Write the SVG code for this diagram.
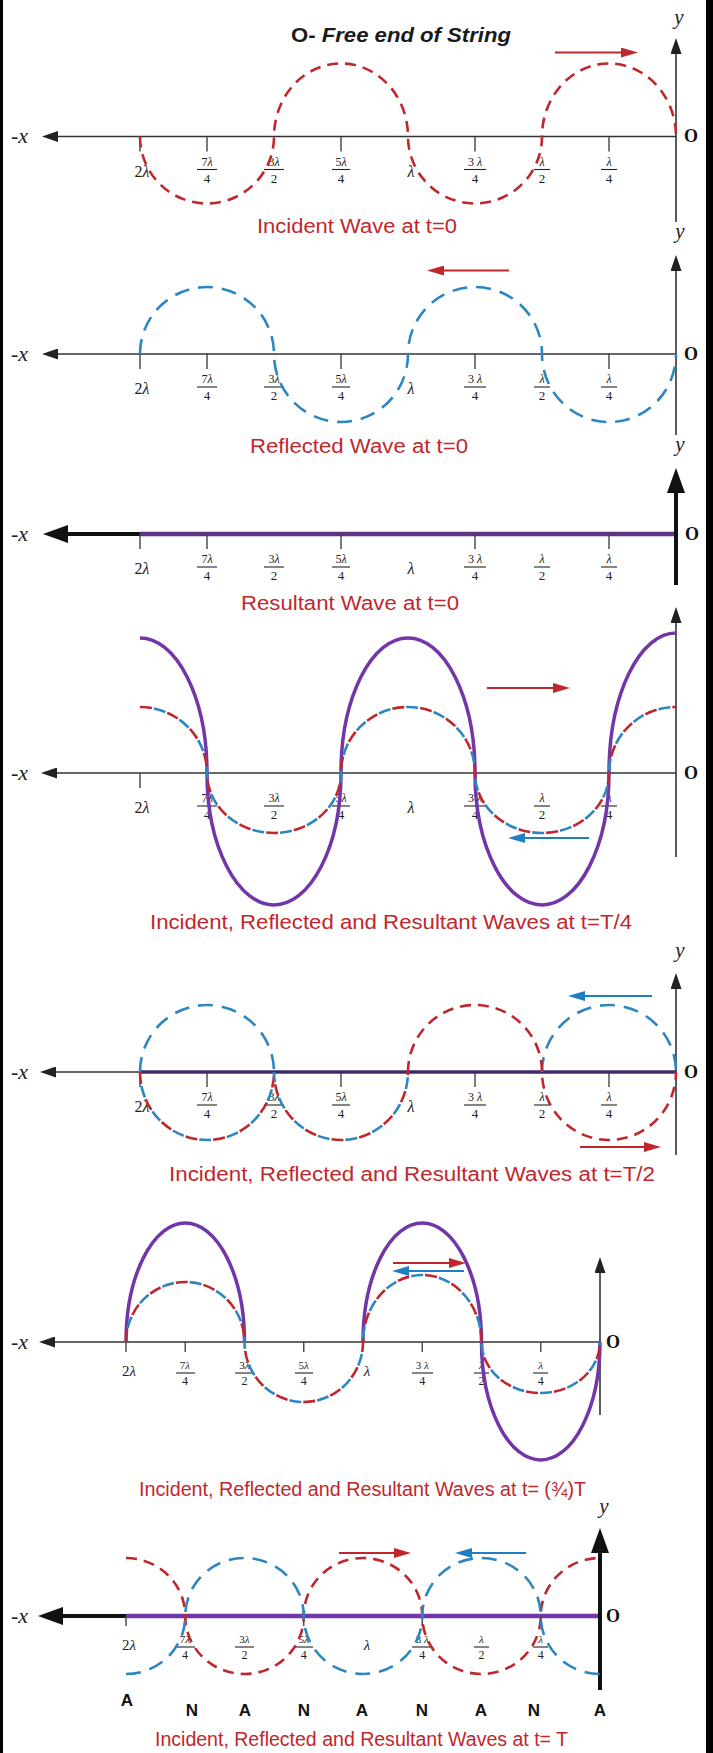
<svg xmlns="http://www.w3.org/2000/svg" width="713" height="1753" viewBox="0 0 713 1753">
<defs>
<style>
.ax{stroke:#333;stroke-width:1.6;fill:none}
.axT{stroke:#111;stroke-width:4;fill:none}
.tk{stroke:#444;stroke-width:1.4;fill:none}
.red{stroke:#c0272d;stroke-width:2.6;fill:none;stroke-dasharray:11 7}
.blu{stroke:#2e86c1;stroke-width:2.6;fill:none;stroke-dasharray:15 9}
.mr{stroke:#c0272d;stroke-width:2.6;fill:none;stroke-dasharray:12 16}
.mb{stroke:#2e86c1;stroke-width:2.6;fill:none;stroke-dasharray:12 16;stroke-dashoffset:14}
.pur{stroke:#7236a8;stroke-width:3.5;fill:none}
.arR{stroke:#c0272d;stroke-width:2;fill:none;marker-end:url(#mR)}
.arB{stroke:#1f7fc4;stroke-width:2;fill:none;marker-end:url(#mB)}
.lb{font-family:"Liberation Serif","Times New Roman",serif;fill:#222;text-anchor:middle}
.s{font-size:16px}.n{font-size:12px}.d{font-size:13px}
.s2{font-size:15px}.n2{font-size:11px}.d2{font-size:12px}
.fl{stroke:#222;stroke-width:1.1;fill:none}
.xl{font-family:"Liberation Serif","Times New Roman",serif;font-style:italic;font-size:22px;fill:#222}
.yl{font-family:"Liberation Serif","Times New Roman",serif;font-style:italic;font-size:21px;fill:#222;text-anchor:middle}
.ol{font-family:"Liberation Serif","Times New Roman",serif;font-weight:bold;font-size:18px;fill:#111}
.cap{font-family:"Liberation Sans",Arial,sans-serif;font-size:20px;fill:#c0272d}
.an{font-family:"Liberation Sans",Arial,sans-serif;font-weight:bold;font-size:17px;fill:#111;text-anchor:middle}
</style>
<marker id="mK" viewBox="0 0 16 11" refX="11" refY="5.5" markerWidth="16" markerHeight="11" markerUnits="userSpaceOnUse" orient="auto"><path d="M0,0L16,5.5L0,11Z" fill="#222"/></marker>
<marker id="mKb" viewBox="0 0 25 18" refX="18" refY="9" markerWidth="25" markerHeight="18" markerUnits="userSpaceOnUse" orient="auto"><path d="M0,0L25,9L0,18Z" fill="#111"/></marker>
<marker id="mR" viewBox="0 0 17 10" refX="12" refY="5" markerWidth="17" markerHeight="10" markerUnits="userSpaceOnUse" orient="auto"><path d="M0,0L17,5L0,10Z" fill="#c0272d"/></marker>
<marker id="mB" viewBox="0 0 17 10" refX="12" refY="5" markerWidth="17" markerHeight="10" markerUnits="userSpaceOnUse" orient="auto"><path d="M0,0L17,5L0,10Z" fill="#1f7fc4"/></marker>
<g id="labA">
 <path class="tk" d="M140,0V15M207,0V15M341,0V15M475,0V15M609,0V15"/>
 <text class="lb s" x="142" y="40">2<tspan font-style="italic">λ</tspan></text>
 <text class="lb n" x="207" y="29">7<tspan font-style="italic">λ</tspan></text><path class="fl" d="M197,33H217"/><text class="lb d" x="207" y="46">4</text>
 <text class="lb n" x="274" y="29">3<tspan font-style="italic">λ</tspan></text><path class="fl" d="M264,33H284"/><text class="lb d" x="274" y="46">2</text>
 <text class="lb n" x="341" y="29">5<tspan font-style="italic">λ</tspan></text><path class="fl" d="M332,33H350"/><text class="lb d" x="341" y="46">4</text>
 <text class="lb s" x="411" y="40" font-style="italic">λ</text>
 <text class="lb n" x="475" y="29">3 <tspan font-style="italic">λ</tspan></text><path class="fl" d="M464,33H486"/><text class="lb d" x="475" y="46">4</text>
 <text class="lb n" x="542" y="29" font-style="italic">λ</text><path class="fl" d="M534,33H550"/><text class="lb d" x="542" y="46">2</text>
 <text class="lb n" x="609" y="29" font-style="italic">λ</text><path class="fl" d="M601,33H617"/><text class="lb d" x="609" y="46">4</text>
</g>
<g id="labB">
 <path class="tk" d="M126,0V10M185.25,0V10M303.75,0V10M422.25,0V10M540.75,0V10"/>
 <text class="lb s2" x="129" y="34">2<tspan font-style="italic">λ</tspan></text>
 <text class="lb n2" x="185" y="27">7<tspan font-style="italic">λ</tspan></text><path class="fl" d="M176,31H195"/><text class="lb d2" x="185" y="43">4</text>
 <text class="lb n2" x="244.5" y="27">3<tspan font-style="italic">λ</tspan></text><path class="fl" d="M235,31H254"/><text class="lb d2" x="244.5" y="43">2</text>
 <text class="lb n2" x="303.75" y="27">5<tspan font-style="italic">λ</tspan></text><path class="fl" d="M295,31H313"/><text class="lb d2" x="303.75" y="43">4</text>
 <text class="lb s2" x="367" y="34" font-style="italic">λ</text>
 <text class="lb n2" x="422.25" y="27">3 <tspan font-style="italic">λ</tspan></text><path class="fl" d="M412,31H433"/><text class="lb d2" x="422.25" y="43">4</text>
 <text class="lb n2" x="481.5" y="27" font-style="italic">λ</text><path class="fl" d="M474,31H489"/><text class="lb d2" x="481.5" y="43">2</text>
 <text class="lb n2" x="540.75" y="27" font-style="italic">λ</text><path class="fl" d="M533,31H548"/><text class="lb d2" x="540.75" y="43">4</text>
</g>
</defs>
<rect x="0" y="0" width="713" height="1753" fill="#fff"/>
<rect x="0" y="0" width="3" height="1753" fill="#000"/>
<rect x="706" y="0" width="7" height="1753" fill="#000"/>

<g id="panel1">
 <text x="291" y="42" font-family="Liberation Sans, Arial, sans-serif" font-weight="bold" font-size="20" fill="#1a1a1a" textLength="220" lengthAdjust="spacingAndGlyphs">O- <tspan font-style="italic">Free end of String</tspan></text>
 <path class="ax" d="M676,136.5H47" marker-end="url(#mK)"/>
 <path class="ax" d="M676,222V43" marker-end="url(#mK)"/>
 <use href="#labA" y="136.5"/>
 <path class="red" d="M140,136.5A67,67 0 0 0 274,136.5A67,73 0 0 1 408,136.5A67,67 0 0 0 542,136.5A67,73 0 0 1 676,136.5"/>
 <text class="xl" x="11" y="143">-x</text>
 <text class="ol" x="684" y="142">O</text>
 <text class="yl" x="679" y="24">y</text>
 <text class="cap" x="257" y="233" textLength="200" lengthAdjust="spacingAndGlyphs">Incident Wave at t=0</text>
</g>

<g id="panel2">
 <text class="yl" x="680" y="238">y</text>
 <path class="ax" d="M676,354H47" marker-end="url(#mK)"/>
 <path class="ax" d="M676,435V260" marker-end="url(#mK)"/>
 <use href="#labA" y="354"/>
 <path class="blu" d="M140,354A67,67 0 0 1 274,354A67,68 0 0 0 408,354A67,67 0 0 1 542,354A67,68 0 0 0 676,354"/>
 <text class="xl" x="11" y="361">-x</text>
 <text class="ol" x="684" y="360">O</text>
 <text class="cap" x="250" y="453" textLength="218" lengthAdjust="spacingAndGlyphs">Reflected Wave at t=0</text>
 <text class="yl" x="680" y="451">y</text>
</g>

<g id="panel3">
 <path class="axT" d="M676,534H50" stroke-width="3.5" marker-end="url(#mKb)"/>
 <path d="M140,534H676" stroke="#5d3580" stroke-width="4.5"/>
 <path class="axT" d="M676,585V475" marker-end="url(#mKb)"/>
 <use href="#labA" y="534"/>
 <text class="xl" x="11" y="541">-x</text>
 <text class="ol" x="685" y="540">O</text>
 <text class="cap" x="241" y="610" textLength="218" lengthAdjust="spacingAndGlyphs">Resultant Wave at t=0</text>
</g>

<g id="panel4">
 <path class="ax" d="M676,773H46" marker-end="url(#mK)"/>
 <path class="ax" d="M676,857V612" marker-end="url(#mK)"/>
 <use href="#labA" y="773"/>
 <path class="pur" d="M140,638A67,135 0 0 1 207,773A67,132 0 0 0 341,773A67,135 0 0 1 475,773A67,132 0 0 0 609,773A67,140 0 0 1 676,633"/>
 <path class="mr" d="M140,707A67,66 0 0 1 207,773A67,60 0 0 0 341,773A67,66 0 0 1 475,773A67,60 0 0 0 609,773A67,66 0 0 1 676,707"/>
 <path class="mb" d="M140,707A67,66 0 0 1 207,773A67,60 0 0 0 341,773A67,66 0 0 1 475,773A67,60 0 0 0 609,773A67,66 0 0 1 676,707"/>
 <text class="xl" x="11" y="780">-x</text>
 <text class="ol" x="684" y="779">O</text>
 <text class="cap" x="150" y="929" textLength="482" lengthAdjust="spacingAndGlyphs">Incident, Reflected and Resultant Waves at t=T/4</text>
</g>

<g id="panel5">
 <text class="yl" x="680" y="957">y</text>
 <path class="ax" d="M676,1072H45" marker-end="url(#mK)"/>
 <path class="ax" d="M676,1155V978" marker-end="url(#mK)"/>
 <use href="#labA" y="1072"/>
 <path d="M140,1072H676" stroke="#3f2a6e" stroke-width="3.5"/>
 <path class="blu" d="M140,1072A67,67 0 0 1 274,1072"/>
 <path class="blu" d="M542,1072A67,67 0 0 1 676,1072"/>
 <path class="red" d="M408,1072A67,67 0 0 1 542,1072A67,68 0 0 0 676,1072"/>
 <path class="mr" d="M140,1072A67,68 0 0 0 274,1072A67,68 0 0 0 408,1072"/>
 <path class="mb" d="M140,1072A67,68 0 0 0 274,1072A67,68 0 0 0 408,1072"/>
 <text class="xl" x="11" y="1079">-x</text>
 <text class="ol" x="684" y="1078">O</text>
 <text class="cap" x="169" y="1181" textLength="486" lengthAdjust="spacingAndGlyphs">Incident, Reflected and Resultant Waves at t=T/2</text>
</g>

<g id="panel6">
 <path class="ax" d="M600,1342H44" marker-end="url(#mK)"/>
 <path class="ax" d="M600,1415V1262" marker-end="url(#mK)"/>
 <use href="#labB" y="1342"/>
 <path class="pur" d="M126,1342A59.25,119 0 0 1 244.5,1342M363,1342A59.25,119 0 0 1 481.5,1342A59.25,118 0 0 0 600,1342"/>
 <path class="mr" d="M126,1342A59.25,60 0 0 1 244.5,1342A59.25,60 0 0 0 363,1342A59.25,67 0 0 1 481.5,1342A59.25,51 0 0 0 600,1342"/>
 <path class="mb" d="M126,1342A59.25,60 0 0 1 244.5,1342A59.25,60 0 0 0 363,1342A59.25,67 0 0 1 481.5,1342A59.25,51 0 0 0 600,1342"/>
 <text class="xl" x="11" y="1349">-x</text>
 <text class="ol" x="606" y="1348">O</text>
 <text class="cap" x="139" y="1496" textLength="447" lengthAdjust="spacingAndGlyphs">Incident, Reflected and Resultant Waves at t= (¾)T</text>
 <text class="yl" x="604" y="1513">y</text>
</g>

<g id="panel7">
 <path class="axT" d="M126,1616H45" marker-end="url(#mKb)"/>
 <path d="M126,1616H600" stroke="#7236a8" stroke-width="4.5"/>
 <path class="axT" d="M600,1690V1535" marker-end="url(#mKb)"/>
 <use href="#labB" y="1616"/>
 <path class="red" d="M126,1558A59.25,58 0 0 1 185.25,1616A59.25,58 0 0 0 303.75,1616A59.25,58 0 0 1 422.25,1616A59.25,58 0 0 0 540.75,1616A59.25,58 0 0 1 600,1558"/>
 <path class="blu" d="M126,1674A59.25,58 0 0 0 185.25,1616A59.25,58 0 0 1 303.75,1616A59.25,58 0 0 0 422.25,1616A59.25,58 0 0 1 540.75,1616A59.25,58 0 0 0 600,1674"/>
 <text class="xl" x="11" y="1623">-x</text>
 <text class="ol" x="606" y="1622">O</text>
 <text class="an" x="127" y="1706">A</text>
 <text class="an" x="192" y="1716">N</text>
 <text class="an" x="245" y="1716">A</text>
 <text class="an" x="304" y="1716">N</text>
 <text class="an" x="362" y="1716">A</text>
 <text class="an" x="422" y="1716">N</text>
 <text class="an" x="481" y="1716">A</text>
 <text class="an" x="534" y="1716">N</text>
 <text class="an" x="600" y="1716">A</text>
 <text class="cap" x="155" y="1746" textLength="413" lengthAdjust="spacingAndGlyphs">Incident, Reflected and Resultant Waves at t= T</text>
</g>

<g id="connectors">
 <path class="arR" d="M555,52.5H633"/>
 <path class="arR" d="M509,270.5H432"/>
 <path class="arR" d="M487,688H565"/>
 <path class="arB" d="M589,838H513"/>
 <path class="arB" d="M652,996H573"/>
 <path class="arR" d="M580,1147H656"/>
 <path class="arR" d="M393,1263H461"/>
 <path class="arB" d="M464,1271H397"/>
 <path class="arR" d="M339,1553H406"/>
 <path class="arB" d="M526,1553H460"/>
</g>
</svg>
